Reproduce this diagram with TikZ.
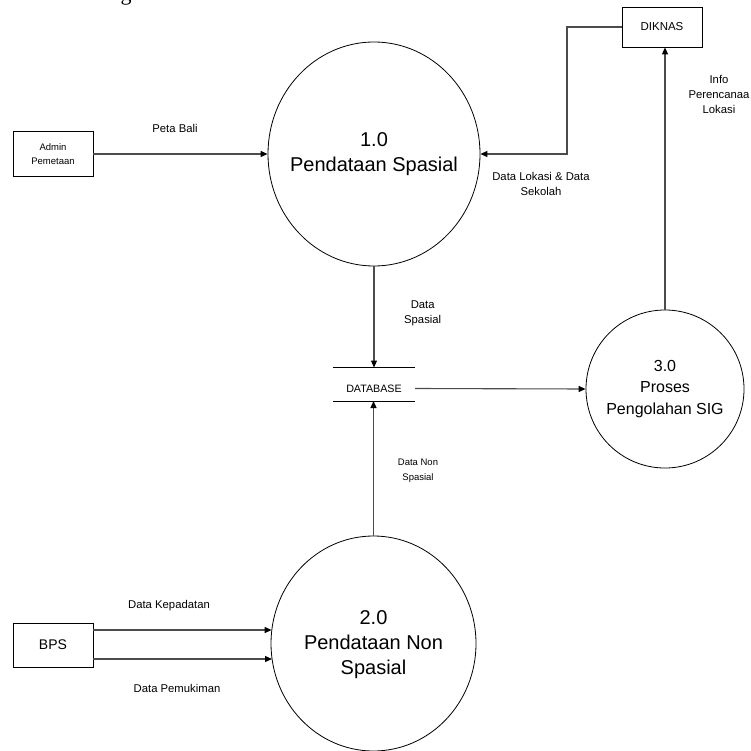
\documentclass[tikz,border=0pt]{standalone}
\usepackage{fontspec}
\setmainfont{Liberation Sans}
\newfontfamily\serifface{Liberation Serif}
\usetikzlibrary{shapes.geometric,arrows.meta,calc}
\begin{document}
\begin{tikzpicture}[x=1pt,y=-1pt,
  proc/.style={ellipse,draw=black,line width=0.8pt,inner sep=0pt},
  ptextbig/.style={align=center,inner sep=0pt,font=\fontsize{20}{25}\selectfont},
  ptextmid/.style={align=center,inner sep=0pt,font=\fontsize{16}{21.8}\selectfont},
  ext/.style={rectangle,draw=black,line width=0.8pt,inner sep=0pt,align=center},
  flow/.style={draw=black!70,line width=1.1pt,-{Triangle[length=7pt,width=6pt,color=black]}},
  storeline/.style={draw=black,line width=0.9pt},
  lbl/.style={align=center,inner sep=0pt,font=\fontsize{11.3}{14.7}\selectfont},
]
\fill[white] (0,0) rectangle (751,751);
\useasboundingbox (0,0) rectangle (751,751);

% cut-off text fragment at top
\begin{scope}
\clip (0,0) rectangle (751,751);
\node[anchor=base,inner sep=0pt,font=\serifface\fontsize{22}{24}\selectfont] (gtail) at (126,0.3) {g};
\end{scope}

% processes
\node[proc,minimum width=212pt,minimum height=224pt] (c1) at (374,154) {};
\node[ptextbig] (c1t) at (c1.center) {1.0\\Pendataan Spasial};
\node[proc,minimum width=205pt,minimum height=215pt] (c2) at (373.5,643.5) {};
\node[ptextbig] (c2t) at ($(c2.center)+(0,1.5)$) {2.0\\Pendataan Non\\Spasial};
\node[proc,minimum width=158pt,minimum height=158pt] (c3) at (665,389) {};
\node[ptextmid] (c3t) at (c3.center) {3.0\\Proses\\Pengolahan SIG};

% external entities
\node[ext,minimum width=80pt,minimum height=45pt,font=\fontsize{9.5}{14.3}\selectfont] (adm) at (53,154) {Admin\\Pemetaan};
\node[ext,minimum width=80pt,minimum height=40pt,font=\fontsize{11.5}{14}\selectfont] (dik) at (662,27) {DIKNAS};
\node[ext,minimum width=80pt,minimum height=44pt,font=\fontsize{14}{16}\selectfont] (bps) at (53,645) {BPS};

% data store
\node[inner sep=0pt,minimum width=82pt,font=\fontsize{10.7}{13}\selectfont] (db) at (374,388.5) {DATABASE};
\coordinate (dbtl) at (333,367.5);
\coordinate (dbtr) at (415,367.5);
\coordinate (dbbl) at (333,401);
\coordinate (dbbr) at (415,401);
\draw[storeline] (dbtl) -- (dbtr);
\draw[storeline] (dbbl) -- (dbbr);

% flows
\coordinate (bend) at (567,154);
\draw[flow] (adm.east) -- (c1.west);
\draw[flow] (dik.west) -| (bend) -- (c1.east);
\draw[flow] (c3.north) -- (c3.north |- dik.south);
\draw[flow] (c1.south) -- (c1.south |- dbtl);
\draw[flow] (c2.north) -- (c2.north |- dbbl);
\draw[flow] (db.east) -- (c3.west);
\draw[flow] ($(bps.east)+(0,-15)$) -- ($(c2.west)+(1,-13.5)$);
\draw[flow] ($(bps.east)+(0,14)$) -- ($(c2.west)+(1.4,15.5)$);

% flow labels
\node[lbl] (l1) at (175,128) {Peta Bali};
\node[lbl] (l2) at (541,184.2) {Data Lokasi \& Data\\Sekolah};
\node[lbl] (l3) at (719,94.5) {Info\\Perencanaa\\Lokasi};
\node[lbl] (l4) at (422.7,313.3) {Data\\Spasial};
\node[lbl,font=\fontsize{9.5}{15}\selectfont] (l5) at (418,470.5) {Data Non\\Spasial};
\node[lbl] (l6) at (169,606) {Data Kepadatan};
\node[lbl] (l7) at (177,688) {Data Pemukiman};
\end{tikzpicture}
\end{document}
